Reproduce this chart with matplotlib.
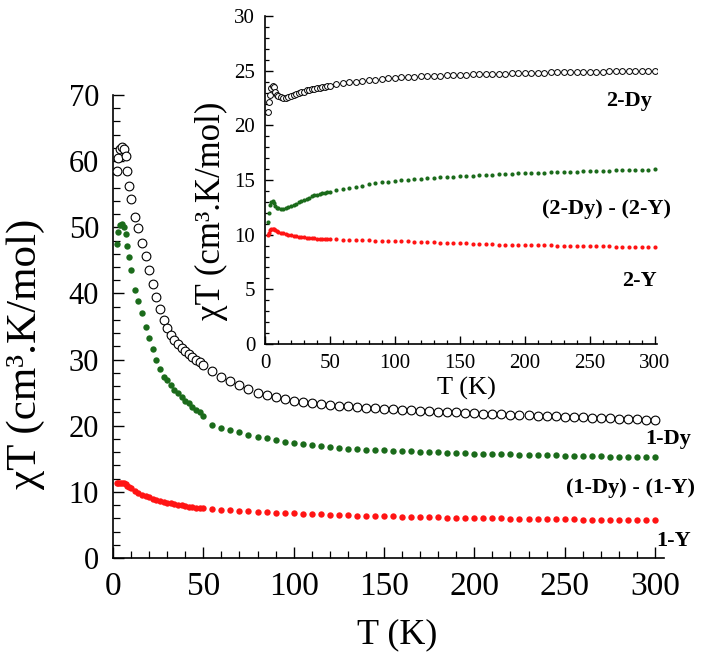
import matplotlib
matplotlib.use("Agg")
import matplotlib.pyplot as plt
from matplotlib.ticker import MultipleLocator

plt.rcParams['font.family'] = ['Liberation Serif', 'DejaVu Serif']

# temperature grid (K)
T_lo = [2, 3, 4, 5, 6, 7, 8, 9, 10, 12, 14, 16, 18, 20, 22, 24, 26, 28, 30,
        32, 34, 36, 38, 40, 42, 44, 46, 48, 50]
T_hi = [55, 60, 65, 70, 75, 80, 85, 90, 95, 100, 105, 110, 115, 120, 125,
        130, 135, 140, 145, 150, 155, 160, 165, 170, 175, 180, 185, 190, 195,
        200, 205, 210, 215, 220, 225, 230, 235, 240, 245, 250, 255, 260, 265,
        270, 275, 280, 285, 290, 295, 300]
T = T_lo + T_hi

# main plot: compound 1
dy1 = [58.5, 60.5, 61.8, 62.2, 61.8, 60.8, 58.5, 56.3, 54.2, 51.5, 49.9, 47.6,
       45.6, 43.6, 41.4, 39.5, 37.6, 36.0, 34.7, 33.7, 32.9, 32.3, 31.8, 31.3,
       30.8, 30.4, 30.0, 29.6, 29.2,
       28.2, 27.4, 26.7, 26.2, 25.6, 25.0, 24.6, 24.3, 24.0, 23.8, 23.65, 23.5,
       23.35, 23.2, 23.05, 22.95, 22.85, 22.75, 22.65, 22.55, 22.48, 22.4,
       22.32, 22.25, 22.18, 22.1, 22.05, 22.0, 21.92, 21.85, 21.8, 21.75, 21.7,
       21.65, 21.6, 21.55, 21.5, 21.45, 21.4, 21.35, 21.3, 21.25, 21.2, 21.15,
       21.1, 21.05, 21.0, 20.95, 20.92, 20.9]
diff1 = [47.5, 49.3, 50.3, 50.5, 50.0, 49.0, 47.2, 45.5, 43.5, 40.5, 38.8, 37.0,
         35.0, 33.3, 31.6, 29.9, 28.5, 27.4, 26.9, 26.1, 25.4, 24.9, 24.3, 23.8,
         23.4, 22.9, 22.4, 22.0, 21.5,
         20.1, 19.7, 19.4, 19.0, 18.6, 18.35, 18.1, 17.85, 17.5, 17.35, 17.2,
         17.05, 16.9, 16.75, 16.6, 16.5, 16.45, 16.4, 16.35, 16.3, 16.25, 16.2,
         16.15, 16.1, 16.05, 16.0, 15.95, 15.9, 15.85, 15.8, 15.8, 15.75, 15.7,
         15.65, 15.6, 15.6, 15.55, 15.5, 15.5, 15.45, 15.4, 15.4, 15.35, 15.35,
         15.3, 15.3, 15.25, 15.25, 15.2, 15.2]
y1 = [11.4, 11.4, 11.4, 11.35, 11.3, 11.2, 10.95, 10.8, 10.6, 10.2, 9.85, 9.55,
      9.3, 9.15, 8.95, 8.75, 8.6, 8.45, 8.35, 8.25, 8.15, 8.05, 7.95, 7.85,
      7.75, 7.68, 7.6, 7.55, 7.5,
      7.4, 7.3, 7.2, 7.12, 7.05, 6.98, 6.92, 6.86, 6.8, 6.75, 6.7, 6.65, 6.6,
      6.55, 6.5, 6.45, 6.42, 6.38, 6.35, 6.32, 6.29, 6.26, 6.23, 6.2, 6.17,
      6.14, 6.11, 6.08, 6.06, 6.04, 6.02, 6.0, 5.98, 5.96, 5.94, 5.92, 5.9,
      5.88, 5.86, 5.85, 5.84, 5.82, 5.81, 5.8, 5.79, 5.78, 5.77, 5.76, 5.75,
      5.75]

# inset: compound 2
dy2 = [21.2, 22.1, 22.8, 23.4, 23.6, 23.5, 23.1, 22.8, 22.7, 22.6, 22.55, 22.55,
       22.6, 22.65, 22.75, 22.85, 22.95, 23.05, 23.1, 23.2, 23.25, 23.3, 23.35,
       23.4, 23.45, 23.5, 23.55, 23.6, 23.65,
       23.75, 23.85, 23.95, 24.0, 24.1, 24.15, 24.2, 24.25, 24.3, 24.35, 24.4,
       24.42, 24.45, 24.48, 24.5, 24.52, 24.55, 24.57, 24.6, 24.62, 24.64,
       24.66, 24.68, 24.7, 24.72, 24.73, 24.75, 24.77, 24.78, 24.8, 24.81,
       24.82, 24.84, 24.85, 24.86, 24.87, 24.88, 24.89, 24.9, 24.91, 24.92,
       24.93, 24.94, 24.95, 24.96, 24.97, 24.97, 24.98, 24.99, 25.0]
diff2 = [11.2, 12.0, 12.7, 13.0, 13.05, 12.9, 12.6, 12.45, 12.4, 12.35, 12.35,
         12.4, 12.5, 12.6, 12.7, 12.85, 12.95, 13.1, 13.2, 13.3, 13.4, 13.5,
         13.6, 13.65, 13.72, 13.8, 13.85, 13.9, 13.95,
         14.05, 14.2, 14.3, 14.4, 14.5, 14.6, 14.7, 14.78, 14.85, 14.92, 14.98,
         15.03, 15.08, 15.13, 15.17, 15.21, 15.25, 15.29, 15.32, 15.35, 15.38,
         15.41, 15.44, 15.47, 15.5, 15.52, 15.55, 15.57, 15.6, 15.62, 15.64,
         15.66, 15.68, 15.7, 15.72, 15.74, 15.76, 15.78, 15.8, 15.81, 15.83,
         15.85, 15.86, 15.88, 15.9, 15.91, 15.93, 15.94, 15.96, 15.97]
y2 = [9.95, 10.2, 10.45, 10.55, 10.55, 10.5, 10.4, 10.3, 10.25, 10.2, 10.15,
      10.1, 10.0, 9.95, 9.9, 9.85, 9.8, 9.78, 9.75, 9.72, 9.7, 9.68, 9.66,
      9.64, 9.63, 9.62, 9.61, 9.6, 9.6,
      9.58, 9.56, 9.54, 9.52, 9.5, 9.48, 9.46, 9.45, 9.43, 9.42, 9.4, 9.38,
      9.36, 9.34, 9.32, 9.3, 9.28, 9.26, 9.24, 9.22, 9.2, 9.18, 9.16, 9.14,
      9.12, 9.1, 9.09, 9.08, 9.07, 9.06, 9.05, 9.04, 9.03, 9.02, 9.01, 9.0,
      8.99, 8.98, 8.97, 8.96, 8.95, 8.94, 8.93, 8.92, 8.91, 8.9, 8.9, 8.89,
      8.89, 8.88]

GREEN = '#1b6b1b'
RED = '#ff1414'
ylab = 'χT (cm³.K/mol)'


def style_axes(ax, major_len, minor_len):
    for s in ['top', 'right']:
        ax.spines[s].set_visible(False)
    for s in ['left', 'bottom']:
        ax.spines[s].set_linewidth(1.2)
    ax.tick_params(which='major', direction='in', length=major_len, width=1.0)
    ax.tick_params(which='minor', direction='in', length=minor_len, width=0.9)


fig = plt.figure(figsize=(7.04, 6.61), dpi=100)

# main axes
ax = fig.add_axes([0.1605, 0.1558, 0.7827, 0.7005])
ax.plot(T, dy1, 'o', ms=6.3, mfc='white', mec='black', mew=0.8, zorder=3)
ax.plot(T, diff1, 'o', ms=4.6, mfc=GREEN, mec=GREEN, mew=0, zorder=3)
ax.plot(T, y1, 'o', ms=4.6, mfc=RED, mec=RED, mew=0, zorder=3)
ax.set_xlim(0, 305)
ax.set_ylim(0, 70)
ax.xaxis.set_major_locator(MultipleLocator(50))
ax.xaxis.set_minor_locator(MultipleLocator(10))
ax.yaxis.set_major_locator(MultipleLocator(10))
ax.yaxis.set_minor_locator(MultipleLocator(2))
style_axes(ax, 8, 5)
ax.tick_params(axis='x', labelsize=24, pad=10)
ax.tick_params(axis='y', labelsize=22, pad=10)
ax.set_xlabel('T (K)', fontsize=26)
ax.set_ylabel(ylab, fontsize=31)
ax.xaxis.set_label_coords(0.515, -0.13)
ax.yaxis.set_label_coords(-0.123, 0.44)

lab_kw = dict(fontsize=16, fontweight='bold', ha='right', va='center', clip_on=False)
ax.text(320, 18.0, '1-Dy', **lab_kw)
ax.text(322, 10.6, '(1-Dy) - (1-Y)', **lab_kw)
ax.text(320, 2.6, '1-Y', **lab_kw)

# inset axes
ins = fig.add_axes([0.3764, 0.4796, 0.557, 0.496])
ins.plot(T, dy2, 'o', ms=4.2, mfc='white', mec='black', mew=0.7, zorder=3)
ins.plot(T, diff2, 'o', ms=3.0, mfc=GREEN, mec=GREEN, mew=0, zorder=3)
ins.plot(T, y2, 'o', ms=3.0, mfc=RED, mec=RED, mew=0, zorder=3)
ins.set_xlim(0, 302)
ins.set_ylim(0, 30)
ins.xaxis.set_major_locator(MultipleLocator(50))
ins.xaxis.set_minor_locator(MultipleLocator(10))
ins.yaxis.set_major_locator(MultipleLocator(5))
ins.yaxis.set_minor_locator(MultipleLocator(1))
style_axes(ins, 6, 3)
ins.tick_params(labelsize=15, pad=7)
ins.set_xlabel('T (K)', fontsize=19)
ins.set_ylabel(ylab, fontsize=25)
ins.xaxis.set_label_coords(0.515, -0.10)
ins.yaxis.set_label_coords(-0.094, 0.405)

ins_kw = dict(fontsize=16, fontweight='bold', ha='right', va='center', clip_on=False)
ins.text(298, 22.2, '2-Dy', **ins_kw)
ins.text(313, 12.35, '(2-Dy) - (2-Y)', **ins_kw)
ins.text(302, 5.75, '2-Y', **ins_kw)

fig.savefig('out.png', dpi=100)
